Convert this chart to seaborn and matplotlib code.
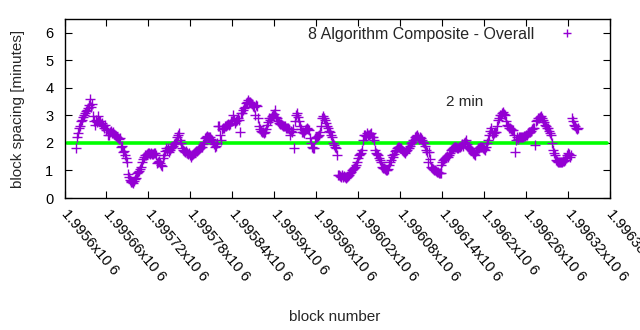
import numpy as np
import pandas as pd
import matplotlib
matplotlib.use("Agg")
import matplotlib.pyplot as plt
import seaborn as sns
from matplotlib.lines import Line2D

# ---- data ----
first_block = 1995616
last_block = 1996335
spacing_minutes = [
    # 1995616 ..
    1.81, 2.23, 2.35, 2.53, 2.6, 2.78, 2.85, 2.95, 3.02, 3.1, 3.15, 3.2, 3.28, 3.36, 3.6, 3.3, 3.4,
    2.96, 2.8, 2.65, 2.84, 2.75, 2.96, 2.8, 2.78, 2.7, 2.72, 2.6, 2.55, 2.65, 2.47, 2.5, 2.29, 2.3,
    2.41, 2.45, 2.35, 2.41, 2.32, 2.29, 2.25, 2.23, 2.19, 2.15, 2.17, 1.87, 1.9, 1.68, 1.7, 1.56,
    1.45, 1.32, 0.86, 0.75, 0.65, 0.6, 0.57, 0.57, 0.55, 0.62, 0.68, 0.72, 0.9, 0.95, 0.98, 1.05,
    1.14, 1.32, 1.4, 1.5, 1.55, 1.56, 1.6, 1.62, 1.62, 1.6, 1.65, 1.6, 1.58, 1.62, 1.62, 1.55, 1.28,
    # segment 2
    1.3, 1.35, 1.26, 1.2, 1.15, 1.45, 1.56, 1.7, 1.81, 1.75, 1.8, 1.68, 1.75, 1.8, 1.87, 1.9, 1.95,
    2.0, 2.05, 2.2, 2.29, 2.35, 2.1, 1.99, 1.81, 1.75, 1.7, 1.68, 1.7, 1.65, 1.6, 1.62, 1.55, 1.5,
    1.56, 1.6, 1.62, 1.68, 1.7, 1.72, 1.75, 1.78, 1.82, 1.85, 1.87, 1.95, 2.05, 2.17, 2.2, 2.25,
    2.2, 2.23, 2.2, 2.15, 2.11, 2.05, 1.95, 1.87, 1.9, 2.0, 2.6, 2.6, 2.3, 2.11, 2.5, 2.55, 2.56,
    2.6, 2.6, 2.65, 2.7, 2.65, 2.7, 2.78, 2.8, 3.02, 2.85, 2.72, 2.8, 2.84, 2.9, 2.84, 2.41, 3.08,
    3.1, 3.2, 3.26, 3.3, 3.45, 3.5, 3.55,
    # segment 3
    3.5, 3.5, 3.45, 3.4, 3.35, 3.32, 3.02, 3.38, 3.35, 2.9, 2.6, 2.5, 2.45, 2.41, 2.38, 2.35, 2.41,
    2.5, 2.65, 2.75, 2.9, 2.85, 2.9, 2.96, 3.0, 3.05, 3.2, 2.95, 2.9, 2.8, 2.72, 2.7, 2.68, 2.65,
    2.62, 2.6, 2.6, 2.55, 2.55, 2.53, 2.5, 2.29, 2.45, 2.41, 2.5, 1.81, 2.78, 3.0, 3.08, 2.95, 2.78,
    2.6, 2.5, 2.41, 2.38, 2.35, 2.47, 2.5, 2.53, 2.5, 2.47, 2.17, 2.0, 1.87, 1.82, 1.81, 2.17, 2.2,
    2.23, 2.25, 2.29, 2.41, 2.6, 2.9, 2.96, 2.9, 2.84, 2.72, 2.6, 2.53, 2.45, 2.41, 2.3, 2.23, 2.0,
    1.93, 1.85, 1.81, 1.56, 0.84,
    # segment 4
    0.84, 0.8, 0.78, 0.82, 0.76, 0.8, 0.78, 0.72, 0.75, 0.8, 0.85, 0.9, 0.95, 1.0, 1.05, 1.1, 1.14,
    1.2, 1.3, 1.45, 1.55, 1.6, 1.62, 1.75, 2.1, 2.29, 2.3, 2.25, 2.35, 2.3, 2.29, 2.32, 2.35, 2.23,
    2.2, 2.1, 1.75, 1.62, 1.6, 1.56, 1.45, 1.38, 1.32, 1.14, 1.1, 1.08, 1.05, 1.02, 1.0, 1.05, 1.2,
    1.3, 1.38, 1.56, 1.5, 1.6, 1.7, 1.75, 1.8, 1.86, 1.85, 1.82, 1.8, 1.75, 1.7, 1.68, 1.62, 1.7,
    1.75, 1.8, 1.81, 1.9, 2.0, 2.05, 2.1, 2.11, 2.2, 2.25, 2.29, 2.2, 2.15, 2.2, 2.17, 2.1, 2.05,
    2.0, 1.9, 1.75, 1.68, 1.32,
    # segment 5
    1.68, 1.4, 1.14, 1.1, 1.05, 1.02, 1.0, 0.98, 0.95, 0.95, 0.92, 0.9, 0.9, 1.2, 1.3, 1.38, 1.42,
    1.45, 1.5, 1.52, 1.5, 1.55, 1.65, 1.75, 1.78, 1.8, 1.85, 1.86, 1.87, 1.82, 1.8, 1.85, 1.86, 1.9,
    1.95, 1.9, 2.0, 2.05, 2.11, 1.95, 1.86, 1.8, 1.78, 1.75, 1.7, 1.65, 1.6, 1.56, 1.7, 1.75, 1.8,
    1.82, 1.85, 1.86, 1.85, 1.8, 1.78, 1.75, 1.85, 2.0, 2.11, 2.3, 2.45, 2.53, 2.35, 2.29, 2.35,
    2.41, 2.4, 2.6, 2.84, 2.9, 3.0, 3.02, 3.1, 3.14, 3.05, 3.02, 2.8, 2.65, 2.6, 2.55, 2.53, 2.5,
    2.48, 2.47, 2.3, 1.68, 2.11,
    # segment 6
    2.2, 2.15, 2.2, 2.2, 2.22, 2.2, 2.2, 2.25, 2.25, 2.29, 2.3, 2.35, 2.38, 2.41, 2.45, 2.5, 2.53,
    2.55, 1.93, 2.78, 2.85, 2.9, 2.92, 2.95, 2.96, 2.9, 2.84, 2.75, 2.65, 2.6, 2.55, 2.53, 2.45,
    2.35, 2.29, 2.0, 1.75, 1.65, 1.56, 1.38, 1.35, 1.32, 1.3, 1.32, 1.32, 1.3, 1.33, 1.35, 1.38,
    1.45, 1.55, 1.62, 1.58, 1.5, 1.55, 2.9, 2.8, 2.65, 2.6, 2.53, 2.5, 2.53,
]
target_minutes = 2
series_label = "8 Algorithm Composite - Overall"
target_label = "2 min"
x_ticks = [1995600 + 60 * k for k in range(14)]
x_tick_labels = ["1.9956x10 6", "1.99566x10 6", "1.99572x10 6", "1.99578x10 6",
                 "1.99584x10 6", "1.9959x10 6", "1.99596x10 6", "1.99602x10 6",
                 "1.99608x10 6", "1.99614x10 6", "1.9962x10 6", "1.99626x10 6",
                 "1.99632x10 6", "1.99638x10 6"]
y_ticks = [0, 1, 2, 3, 4, 5, 6]

blocks = np.linspace(first_block, last_block, len(spacing_minutes))
df = pd.DataFrame({"block": blocks, "spacing": spacing_minutes})

sns.set_style("ticks")
plt.rcParams["font.family"] = ["Liberation Sans", "DejaVu Sans"]
plt.rcParams["font.size"] = 11

fig = plt.figure(figsize=(6.4, 3.3), dpi=100)
ax = fig.add_axes([64.5 / 640, 1 - 198 / 330, 545 / 640, 179 / 330])

violet = "#9400d3"
ax.axhline(target_minutes, xmin=0.005, xmax=0.995, color="#00ff00", lw=2.6, zorder=1)
sns.scatterplot(data=df, x="block", y="spacing", marker="+", s=46, color=violet,
                linewidth=1.0, ax=ax, zorder=2, legend=False)

ax.set_xlim(1995600, 1996380)
ax.set_ylim(0, 6.5)
ax.set_xticks(x_ticks)
ax.set_xticklabels(x_tick_labels, rotation=-50, ha="left", va="center",
                   rotation_mode="anchor", fontsize=10.5)
ax.set_yticks(y_ticks)
ax.tick_params(direction="in", length=5, width=0.8, top=True, right=True,
               labelsize=10.5, colors="black")
ax.tick_params(axis="x", pad=10)
ax.tick_params(axis="y", pad=8)
for sp in ax.spines.values():
    sp.set_linewidth(1.0)
    sp.set_color("black")

ax.set_xlabel("block number", fontsize=11, labelpad=0)
ax.xaxis.set_label_coords(0.496, -0.625)
ax.set_ylabel("block spacing [minutes]", fontsize=11)
ax.yaxis.set_label_coords(-0.073, 0.5)

ax.text(1996172, 3.49, target_label, ha="center", va="center", fontsize=11)

handle = Line2D([], [], marker="+", ls="", color=violet, markersize=6, markeredgewidth=1.0)
ax.legend([handle], [series_label], loc="upper right", frameon=False, markerfirst=False,
          bbox_to_anchor=(0.952, 0.958), borderaxespad=0, borderpad=0,
          handletextpad=1.1, handlelength=2.0, fontsize=11.5)

fig.savefig("out.png", dpi=100)
